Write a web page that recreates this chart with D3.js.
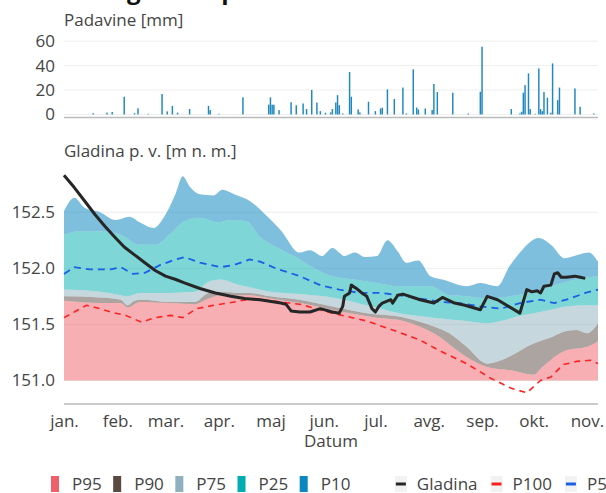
<!DOCTYPE html>
<html>
<head>
<meta charset="utf-8">
<script src="https://cdn.jsdelivr.net/npm/d3@7"></script>
<style>
  body { margin: 0; background: #fff; }
  svg { font-family: "Open Sans", sans-serif; }
</style>
</head>
<body>
<div id="chart"></div>
<script>
// ---- data (day = days after 1 January) ----
var monthLabels = ["jan.", "feb.", "mar.", "apr.", "maj", "jun.", "jul.", "avg.", "sep.", "okt.", "nov."];
var monthDays = [0, 31, 59, 90, 120, 151, 181, 212, 243, 273, 304];

var precipTicks = [0, 20, 40, 60];
var levelTicks = [151.0, 151.5, 152.0, 152.5];

var precipDay = [17, 25, 28, 35, 41, 43, 49, 57, 60, 63, 66, 73, 84, 85, 90, 104, 119, 120, 121, 122, 125, 132, 135, 139, 141, 144, 147, 149, 152, 155, 156, 158, 159, 160, 162, 166, 167, 171, 172, 177, 181, 184, 185, 188, 192, 197, 199, 203, 205, 206, 210, 214, 215, 217, 226, 235, 242, 243, 260, 265, 266, 267, 268, 270, 271, 274, 276, 277, 278, 279, 281, 283, 284, 287, 288, 297, 300, 308];
var precipMm = [1.0, 1.5, 2.0, 14.5, 1.0, 5.0, 0.5, 16.7, 2.5, 7.0, 1.5, 4.5, 7.0, 3.5, 0.5, 14.0, 8.0, 14.0, 8.0, 8.0, 3.5, 10.0, 7.5, 9.0, 4.4, 20.0, 9.8, 2.7, 1.4, 1.6, 4.4, 9.8, 15.8, 7.6, 0.8, 34.7, 14.5, 4.1, 1.6, 10.4, 2.7, 4.9, 5.5, 20.5, 12.6, 22.0, 0.8, 37.0, 5.7, 4.1, 4.9, 3.6, 24.9, 18.3, 17.8, 0.8, 18.6, 55.5, 4.4, 0.8, 2.2, 17.8, 24.0, 33.6, 4.4, 0.5, 37.7, 4.4, 2.7, 18.3, 13.7, 1.4, 41.8, 11.7, 22.0, 21.3, 6.3, 0.8];

var p10Day = [0, 6, 12, 21, 30, 38, 44, 52, 59, 65, 69, 73, 79, 87, 92, 99, 108, 117, 126, 137, 143, 150, 156, 163, 169, 175, 182, 188, 194, 199, 206, 213, 220, 224, 234, 242, 252, 259, 265, 276, 283, 291, 299, 305, 310.4];
var p10Val = [152.51, 152.63, 152.54, 152.50, 152.43, 152.46, 152.41, 152.36, 152.48, 152.67, 152.82, 152.73, 152.66, 152.65, 152.70, 152.66, 152.60, 152.48, 152.34, 152.14, 152.16, 152.11, 152.18, 152.11, 152.14, 152.10, 152.11, 152.25, 152.15, 152.05, 152.07, 151.93, 151.90, 151.88, 151.84, 151.87, 151.84, 152.02, 152.14, 152.27, 152.21, 152.09, 152.12, 152.14, 152.06];

var p25Day = [0, 9, 21, 33, 44, 53, 62, 70, 79, 89, 98, 106, 114, 126, 137, 143, 156, 169, 182, 195, 213, 224, 234, 246, 263, 273, 283, 292, 304, 310.4];
var p25Val = [152.30, 152.33, 152.33, 152.30, 152.21, 152.21, 152.31, 152.42, 152.45, 152.41, 152.43, 152.42, 152.28, 152.17, 152.08, 152.02, 151.93, 151.90, 151.87, 151.84, 151.84, 151.76, 151.75, 151.73, 151.76, 151.79, 151.84, 151.88, 151.92, 151.93];

var p75Day = [0, 21, 33, 37, 44, 62, 76, 84, 91, 102, 108, 120, 137, 156, 176, 195, 215, 234, 246, 254, 263, 273, 283, 292, 304, 310.4];
var p75Val = [151.81, 151.79, 151.76, 151.75, 151.78, 151.78, 151.79, 151.88, 151.90, 151.85, 151.83, 151.79, 151.77, 151.74, 151.67, 151.60, 151.56, 151.53, 151.51, 151.53, 151.57, 151.60, 151.63, 151.66, 151.67, 151.67];

var p90Day = [0, 21, 33, 37, 41, 44, 62, 76, 84, 91, 102, 108, 120, 137, 156, 176, 195, 215, 224, 234, 246, 254, 273, 284, 292, 298, 304, 310.4];
var p90Val = [151.75, 151.74, 151.72, 151.67, 151.71, 151.72, 151.70, 151.70, 151.78, 151.79, 151.78, 151.78, 151.75, 151.72, 151.66, 151.60, 151.57, 151.48, 151.42, 151.30, 151.15, 151.18, 151.33, 151.39, 151.44, 151.45, 151.42, 151.51];

var p95Day = [0, 21, 33, 37, 44, 62, 76, 84, 91, 102, 108, 120, 137, 156, 182, 195, 215, 234, 246, 260, 273, 278, 292, 304, 310.4];
var p95Val = [151.71, 151.69, 151.69, 151.65, 151.70, 151.69, 151.68, 151.73, 151.76, 151.76, 151.76, 151.73, 151.69, 151.63, 151.56, 151.54, 151.42, 151.21, 151.12, 151.09, 151.05, 151.12, 151.27, 151.30, 151.35];
var fillBase = 151.0;

var p50Day = [0, 6, 15, 27, 33, 40, 47, 56, 65, 70, 79, 91, 99, 108, 114, 123, 137, 149, 160, 172, 184, 195, 207, 219, 230, 242, 254, 265, 277, 285, 294, 303, 310.4];
var p50Val = [151.95, 152.01, 151.99, 151.99, 152.01, 151.95, 151.96, 152.03, 152.08, 152.10, 152.05, 152.01, 152.03, 152.08, 152.06, 152.00, 151.93, 151.85, 151.81, 151.78, 151.78, 151.76, 151.73, 151.70, 151.69, 151.66, 151.64, 151.69, 151.72, 151.69, 151.73, 151.78, 151.81];

var p100Day = [0, 6, 13, 21, 27, 36, 45, 53, 62, 69, 77, 87, 99, 110, 120, 131, 137, 156, 176, 191, 207, 219, 234, 248, 260, 269, 277, 283, 290, 298, 306, 310.4];
var p100Val = [151.56, 151.61, 151.67, 151.64, 151.61, 151.58, 151.52, 151.56, 151.58, 151.56, 151.64, 151.67, 151.70, 151.73, 151.71, 151.69, 151.68, 151.60, 151.53, 151.45, 151.36, 151.26, 151.15, 151.02, 150.93, 150.89, 151.00, 151.03, 151.14, 151.17, 151.18, 151.15];

var gladinaDay = [0, 6, 12, 18, 24, 30, 35, 41, 47, 53, 59, 65, 70, 79, 88, 97, 105, 114, 126, 129, 132, 137, 143, 149, 156, 160, 162, 163, 166, 167, 170, 174, 176, 179, 181, 183, 185, 190, 191, 194, 197, 207, 215, 220, 227, 233, 242, 246, 252, 265, 269, 272, 275, 277, 279, 283, 285, 287, 289, 292, 297, 300, 303];
var gladinaVal = [152.83, 152.72, 152.60, 152.48, 152.37, 152.27, 152.19, 152.12, 152.05, 151.98, 151.93, 151.90, 151.87, 151.82, 151.78, 151.75, 151.73, 151.72, 151.69, 151.68, 151.62, 151.61, 151.61, 151.64, 151.61, 151.60, 151.66, 151.75, 151.78, 151.85, 151.82, 151.77, 151.75, 151.64, 151.61, 151.66, 151.69, 151.72, 151.69, 151.76, 151.77, 151.72, 151.69, 151.74, 151.69, 151.67, 151.63, 151.75, 151.72, 151.60, 151.81, 151.79, 151.80, 151.78, 151.84, 151.85, 151.95, 151.96, 151.92, 151.92, 151.93, 151.92, 151.91];

// ---- layout ----
var W = 606, H = 493;
var left = 64, right = 598;

var svg = d3.select("#chart").append("svg")
  .attr("width", W)
  .attr("height", H);

var x = d3.scaleLinear().domain([0, 310.4]).range([left, right]);
var yP = d3.scaleLinear().domain([-2.5, 63]).range([117.5, 37.5]);
var yL = d3.scaleLinear().domain([150.79, 152.93]).range([404, 164]);

function pts(days, vals) {
  return days.map(function(d, i) { return [d, vals[i]]; });
}

// title (mostly outside the picture)
svg.append("text")
  .attr("x", 29).attr("y", -1)
  .attr("font-size", 24).attr("font-weight", "bold")
  .attr("fill", "#111")
  .text("Dnevna gladina podzemne vode");

// ---- precipitation panel ----
svg.append("g").selectAll("line")
  .data(precipTicks)
  .enter().append("line")
  .attr("x1", left).attr("x2", right)
  .attr("y1", function(d) { return yP(d); })
  .attr("y2", function(d) { return yP(d); })
  .attr("stroke", "#eee");

var barW = (x(1) - x(0)) * 0.85;
svg.append("g").selectAll("rect")
  .data(pts(precipDay, precipMm))
  .enter().append("rect")
  .attr("x", function(d) { return x(d[0]) - barW / 2; })
  .attr("width", barW)
  .attr("y", function(d) { return yP(d[1]); })
  .attr("height", function(d) { return yP(0) - yP(d[1]); })
  .attr("fill", "#1f88bf");

svg.append("line")
  .attr("x1", left).attr("x2", right)
  .attr("y1", yP.range()[0]).attr("y2", yP.range()[0])
  .attr("stroke", "#bbb").attr("stroke-width", 1.5);

var axP = svg.append("g")
  .attr("transform", "translate(" + left + ",0)")
  .call(d3.axisLeft(yP).tickValues(precipTicks).tickSize(0).tickPadding(9));
axP.select(".domain").remove();

svg.append("text")
  .attr("x", left).attr("y", 26)
  .attr("font-size", 17).attr("fill", "#444")
  .text("Padavine [mm]");

// ---- level panel ----
svg.append("g").selectAll("line")
  .data(levelTicks)
  .enter().append("line")
  .attr("x1", left).attr("x2", right)
  .attr("y1", function(d) { return yL(d); })
  .attr("y2", function(d) { return yL(d); })
  .attr("stroke", "#eee");

var edge = d3.line()
  .x(function(d) { return x(d[0]); })
  .y(function(d) { return yL(d[1]); })
  .curve(d3.curveMonotoneX);

function band(top, bottom) {
  var a = edge(top);
  var b = edge(bottom.slice().reverse());
  return a + "L" + b.slice(1) + "Z";
}

var baseDays = [0, 310.4];
var baseVals = [fillBase, fillBase];

var bands = [
  { top: pts(p95Day, p95Val), bottom: pts(baseDays, baseVals), color: "#f0606a" },
  { top: pts(p90Day, p90Val), bottom: pts(p95Day, p95Val), color: "#5a4a42" },
  { top: pts(p75Day, p75Val), bottom: pts(p90Day, p90Val), color: "#8fb0be" },
  { top: pts(p25Day, p25Val), bottom: pts(p75Day, p75Val), color: "#00adb0" },
  { top: pts(p10Day, p10Val), bottom: pts(p25Day, p25Val), color: "#0080be" }
];

svg.append("g").selectAll("path")
  .data(bands)
  .enter().append("path")
  .attr("d", function(d) { return band(d.top, d.bottom); })
  .attr("fill", function(d) { return d.color; })
  .attr("fill-opacity", 0.5);

var straight = d3.line()
  .x(function(d) { return x(d[0]); })
  .y(function(d) { return yL(d[1]); });

svg.append("path")
  .attr("d", straight(pts(p100Day, p100Val)))
  .attr("fill", "none").attr("stroke", "#ff2020")
  .attr("stroke-width", 1.6).attr("stroke-dasharray", "6,5");

svg.append("path")
  .attr("d", straight(pts(p50Day, p50Val)))
  .attr("fill", "none").attr("stroke", "#1a5fe6")
  .attr("stroke-width", 1.8).attr("stroke-dasharray", "7,5");

svg.append("path")
  .attr("d", straight(pts(gladinaDay, gladinaVal)))
  .attr("fill", "none").attr("stroke", "#262626")
  .attr("stroke-width", 3).attr("stroke-linejoin", "round");

svg.append("line")
  .attr("x1", left).attr("x2", right)
  .attr("y1", 404).attr("y2", 404)
  .attr("stroke", "#bbb").attr("stroke-width", 1.5);

var axL = svg.append("g")
  .attr("transform", "translate(" + left + ",0)")
  .call(d3.axisLeft(yL).tickValues(levelTicks).tickFormat(d3.format(".1f")).tickSize(0).tickPadding(9));
axL.select(".domain").remove();

var axX = svg.append("g")
  .attr("transform", "translate(0,404)")
  .call(d3.axisBottom(x).tickValues(monthDays)
    .tickFormat(function(d, i) { return monthLabels[i]; })
    .tickSize(0).tickPadding(11));
axX.select(".domain").remove();

svg.selectAll(".tick text")
  .attr("font-size", 17)
  .attr("font-family", "Open Sans")
  .attr("fill", "#444");

svg.append("text")
  .attr("x", left).attr("y", 157)
  .attr("font-size", 17).attr("fill", "#444")
  .text("Gladina p. v. [m n. m.]");

svg.append("text")
  .attr("x", (left + right) / 2).attr("y", 447)
  .attr("text-anchor", "middle")
  .attr("font-size", 17).attr("fill", "#444")
  .text("Datum");

// ---- legend ----
var legendItems = [
  { name: "P95", color: "#f0606a", kind: "fill" },
  { name: "P90", color: "#5a4a42", kind: "fill" },
  { name: "P75", color: "#8fb0be", kind: "fill" },
  { name: "P25", color: "#00adb0", kind: "fill" },
  { name: "P10", color: "#0a86c0", kind: "fill" },
  { name: "Gladina", color: "#262626", kind: "line" },
  { name: "P100", color: "#ff2020", kind: "line" },
  { name: "P50", color: "#1a5fe6", kind: "line" }
];

var lg = svg.append("g");
var cx = 51, ly = 484;
legendItems.forEach(function(it, i) {
  if (it.kind === "line" && legendItems[i - 1].kind === "fill") cx += 34;
  if (it.kind === "fill") {
    lg.append("rect").attr("x", cx).attr("y", ly - 8)
      .attr("width", 8).attr("height", 16).attr("fill", it.color);
  } else {
    lg.append("rect").attr("x", cx - 1).attr("y", ly - 8)
      .attr("width", 12).attr("height", 16).attr("fill", "#f2f2f2");
    lg.append("line").attr("x1", cx).attr("x2", cx + 10)
      .attr("y1", ly).attr("y2", ly)
      .attr("stroke", it.color).attr("stroke-width", 3);
  }
  var t = lg.append("text")
    .attr("x", cx + 21).attr("y", ly + 6)
    .attr("font-size", 17).attr("fill", "#444")
    .text(it.name);
  cx = cx + 21 + t.node().getComputedTextLength() + (it.kind === "fill" ? 11.5 : 14);
});
</script>
</body>
</html>
